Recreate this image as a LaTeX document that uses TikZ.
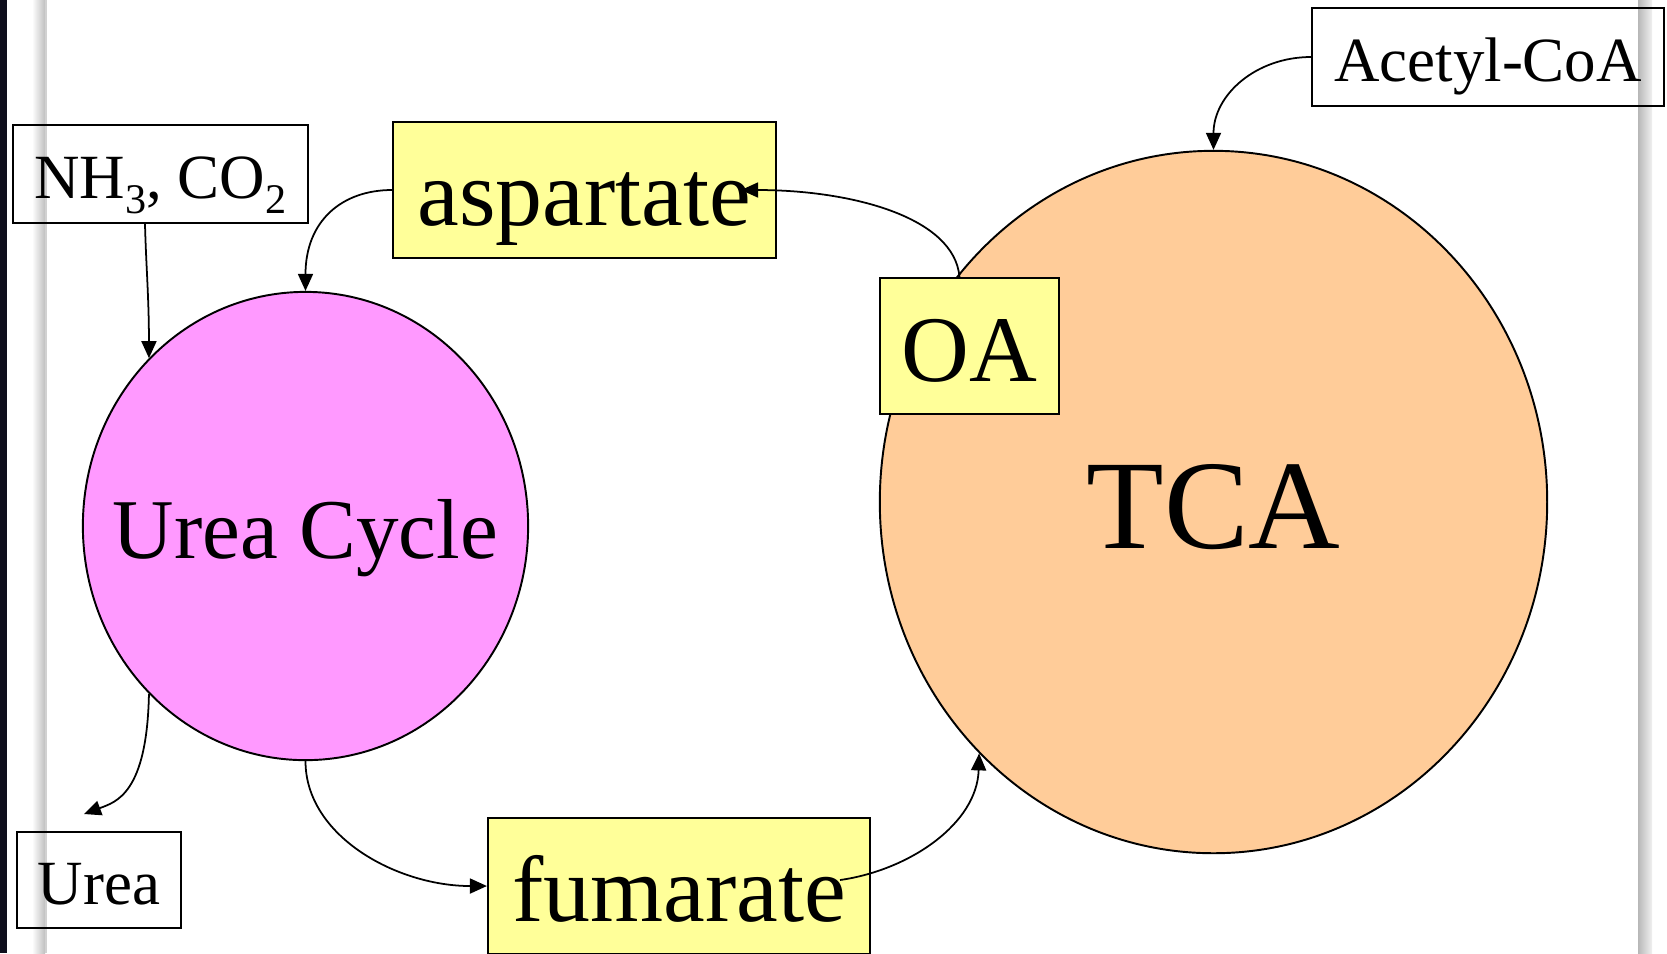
\documentclass[tikz,border=0pt]{standalone}
\usepackage{fontspec}
\setmainfont{Liberation Serif}
\usepackage{tikz}
\usetikzlibrary{arrows.meta,shapes.geometric}

\definecolor{ucpink}{HTML}{FF99FF}
\definecolor{tcapeach}{HTML}{FFCC99}
\definecolor{metyellow}{HTML}{FFFF99}
\definecolor{barnavy}{HTML}{0E0E1C}
\newcommand{\chemsub}[1]{\raisebox{-0.24em}{\fontsize{12}{14}\selectfont #1}}

\begin{document}
\begin{tikzpicture}[
x=0.01cm,y=-0.01cm,
lbl/.style={draw,line width=0.55pt,inner sep=0pt,minimum height=0.98cm,font=\fontsize{17.9}{21}\selectfont,text height=0.48cm,text depth=0pt},
metab/.style={draw,fill=metyellow,line width=0.55pt,inner sep=0pt,minimum height=1.36cm,font=\fontsize{26.7}{32}\selectfont,text height=0.70cm,text depth=0pt},
cyc/.style={ellipse,draw,line width=0.55pt,inner sep=0pt},
arr/.style={-{Triangle[length=0.17cm,width=0.15cm]},line width=0.5pt}
]
\useasboundingbox (0,0) rectangle (1667,953);
% slide edges
\fill[barnavy] (0,0) rectangle (7,953);
\shade[left color=white,right color=black!25] (32,0) rectangle (45,953);
\fill[black!18] (45,0) rectangle (47,953);
\shade[left color=black!28,right color=black!6] (1638,0) rectangle (1652,953);

% inputs and outputs
\node[lbl,minimum width=2.95cm] (nh3) at (160.5,174) {NH\chemsub{3}, CO\chemsub{2}};
\node[lbl,minimum width=1.64cm,minimum height=0.96cm] (urea) at (99,880) {Urea};
\node[lbl,minimum width=3.52cm] (acetyl) at (1488,57) {Acetyl-CoA};

% cycles
\node[cyc,fill=ucpink,minimum width=4.45cm,minimum height=4.68cm] (ucycle) at (305.5,526) {};
\node[font=\fontsize{24.2}{29}\selectfont,text height=0.64cm,text depth=0pt] (ucyclbl) at (ucycle) {Urea Cycle};
\node[cyc,fill=tcapeach,minimum width=6.67cm,minimum height=7.02cm] (tca) at (1213.5,502) {};
\node[font=\fontsize{36.1}{43}\selectfont,text height=0.92cm,text depth=0pt] (tcalbl) at (tca) {TCA};

% shuttled metabolites
\node[metab,minimum width=3.83cm] (asp) at (584.5,190) {aspartate};
\node[metab,minimum width=3.82cm] (fum) at (679,886) {fumarate};
\node[metab,minimum width=1.79cm] (oa) at (969.5,346) {OA};

\draw[arr] ([xshift=-0.155cm]nh3.south) .. controls +(1,40) and +(0,-60) .. (ucycle.133);
\draw[arr] (asp.west) .. controls +(-50,0) and +(0,-70) .. (ucycle.north);
\draw[arr] ([xshift=-0.1cm]oa.north) .. controls +(-5,-60) and +(110,0) .. ([xshift=-0.36cm]asp.east);
\draw[arr] (ucycle.227) .. controls +(-2,100) and +(32,-12) .. ([xshift=-0.15cm,yshift=0.17cm]urea.north);
\draw[arr] (ucycle.south) .. controls +(0,75) and +(-90,0) .. (fum.west);
\draw[arr] ([xshift=-0.31cm,yshift=0.06cm]fum.east) .. controls +(70,-10) and +(-2,70) .. (tca.227);
\draw[arr] (acetyl.west) .. controls +(-55,0) and +(0,-55) .. (tca.north);
\end{tikzpicture}
\end{document}
